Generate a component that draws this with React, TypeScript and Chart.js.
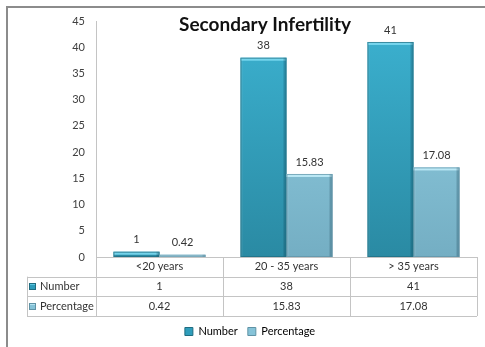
import React, { useEffect, useRef } from "react";
import { Chart, registerables } from "chart.js";

Chart.register(...registerables);

const categories = ["<20 years", "20 - 35 years", "> 35 years"];
const seriesNames = ["Number", "Percentage"];
const numberValues = [1, 38, 41];
const percentageValues = [0.42, 15.83, 17.08];
const numberLabels = ["1", "38", "41"];
const percentageLabels = ["0.42", "15.83", "17.08"];
const yMax = 45;
const yStep = 5;
const titleText = "Secondary Infertility";

const FONT = "Lato, 'Open Sans', 'DejaVu Sans', sans-serif";
const NUM_TOP = "#3cb2d1";
const NUM_BOT = "#2a8aa3";
const PCT_TOP = "#95d3e7";
const PCT_BOT = "#74aec3";
const NUM_SOLID = "#2f9dbb";
const PCT_SOLID = "#86c3d8";
const NUM_EDGE = "#1f6c80";
const PCT_EDGE = "#5f92a5";

function gradient(chart: any, top: string, bot: string, solid: string) {
  const ca = chart.chartArea;
  if (!ca) return solid;
  const g = chart.ctx.createLinearGradient(0, ca.top, 0, ca.bottom);
  g.addColorStop(0, top);
  g.addColorStop(1, bot);
  return g;
}

function drawSwatch(ctx: CanvasRenderingContext2D, x: number, y: number, s: number, di: number) {
  ctx.fillStyle = di === 0 ? NUM_EDGE : PCT_EDGE;
  ctx.fillRect(x, y, s, s);
  ctx.fillStyle = di === 0 ? NUM_SOLID : PCT_SOLID;
  ctx.fillRect(x + 1, y + 1, s - 2, s - 2);
  ctx.fillStyle = di === 0 ? "#5cc6e0" : "#b5e2f0";
  ctx.fillRect(x + 1, y + 1, s - 2, 1);
}

const decorPlugin = {
  id: "decor",
  afterDatasetsDraw(chart: any) {
    const ctx: CanvasRenderingContext2D = chart.ctx;
    const allLabels = [numberLabels, percentageLabels];
    chart.data.datasets.forEach((_ds: any, di: number) => {
      const meta = chart.getDatasetMeta(di);
      meta.data.forEach((bar: any, i: number) => {
        const { x, y, base, width } = bar.getProps(["x", "y", "base", "width"], true);
        const left = x - width / 2;
        const right = x + width / 2;
        const h = base - y;
        ctx.save();
        // bevel: top light strip
        ctx.fillStyle = di === 0 ? "rgba(120,215,238,0.95)" : "rgba(190,234,247,0.95)";
        ctx.fillRect(left, y, width, Math.min(3, h));
        // right shade
        ctx.fillStyle = "rgba(0,35,55,0.22)";
        ctx.fillRect(right - 3, y, 3, h);
        // left highlight
        ctx.fillStyle = "rgba(255,255,255,0.10)";
        ctx.fillRect(left, y, 2, h);
        // outline
        ctx.strokeStyle = di === 0 ? NUM_EDGE : PCT_EDGE;
        ctx.globalAlpha = 0.7;
        ctx.lineWidth = 1;
        ctx.strokeRect(left + 0.5, y + 0.5, width - 1, Math.max(0, h - 1));
        ctx.globalAlpha = 1;
        ctx.fillStyle = "#333333";
        ctx.font = `11px ${FONT}`;
        ctx.textAlign = "center";
        ctx.textBaseline = "middle";
        ctx.fillText(allLabels[di][i], x, y - 12);
        ctx.restore();
      });
    });
  },
  afterDraw(chart: any) {
    const ctx: CanvasRenderingContext2D = chart.ctx;
    const ca = chart.chartArea;
    const xs = chart.scales.x;
    ctx.save();
    // outer frame
    ctx.strokeStyle = "#8c8c8c";
    ctx.lineWidth = 2;
    ctx.beginPath();
    ctx.moveTo(7, chart.height);
    ctx.lineTo(7, 7);
    ctx.lineTo(chart.width, 7);
    ctx.stroke();

    // title
    ctx.fillStyle = "#111111";
    ctx.font = `bold 19px ${FONT}`;
    ctx.textAlign = "center";
    ctx.textBaseline = "alphabetic";
    ctx.fillText(titleText, 265, 31);

    // data table
    const top = ca.bottom;
    const bottom = xs.bottom;
    const rowH = (bottom - top) / 3;
    const left0 = 27;
    const colW = (ca.right - ca.left) / categories.length;
    ctx.strokeStyle = "#c4c4c4";
    ctx.lineWidth = 1;
    ctx.beginPath();
    ctx.moveTo(ca.left, Math.round(top) + 0.5);
    ctx.lineTo(ca.right, Math.round(top) + 0.5);
    for (let r = 1; r <= 3; r++) {
      const yy = Math.round(top + r * rowH) + 0.5;
      ctx.moveTo(left0, yy);
      ctx.lineTo(ca.right, yy);
    }
    for (let c = 0; c <= categories.length; c++) {
      const xx = Math.round(ca.left + c * colW) + 0.5;
      ctx.moveTo(xx, top);
      ctx.lineTo(xx, bottom);
    }
    ctx.moveTo(left0 + 0.5, top + rowH);
    ctx.lineTo(left0 + 0.5, bottom);
    ctx.stroke();

    ctx.fillStyle = "#333333";
    ctx.font = `11px ${FONT}`;
    ctx.textBaseline = "middle";
    ctx.textAlign = "center";
    const rows = [numberLabels, percentageLabels];
    categories.forEach((cat, i) => {
      const cx = xs.getPixelForValue(i);
      ctx.fillText(cat, cx, top + rowH * 0.5);
      rows.forEach((rw, r) => {
        ctx.fillText(rw[i], cx, top + rowH * (r + 1.5));
      });
    });
    ctx.textAlign = "left";
    seriesNames.forEach((name, r) => {
      const cy = top + rowH * (r + 1.5);
      drawSwatch(ctx, 29, Math.round(cy - 3.5), 7, r);
      ctx.fillStyle = "#333333";
      ctx.fillText(name, 40, cy);
    });
    ctx.restore();
  },
};

export default function App() {
  const ref = useRef<HTMLCanvasElement>(null);
  useEffect(() => {
    if (!ref.current) return;
    Chart.defaults.font.family = FONT;
    const chart = new Chart(ref.current, {
      type: "bar",
      data: {
        labels: categories,
        datasets: [
          {
            label: seriesNames[0],
            data: numberValues,
            backgroundColor: (c: any) => gradient(c.chart, NUM_TOP, NUM_BOT, NUM_SOLID),
            borderWidth: 0,
            categoryPercentage: 0.725,
            barPercentage: 1,
          },
          {
            label: seriesNames[1],
            data: percentageValues,
            backgroundColor: (c: any) => gradient(c.chart, PCT_TOP, PCT_BOT, PCT_SOLID),
            borderWidth: 0,
            categoryPercentage: 0.725,
            barPercentage: 1,
          },
        ],
      },
      options: {
        animation: false,
        responsive: true,
        maintainAspectRatio: false,
        layout: { padding: { top: 21, left: 23, right: 8, bottom: 0 } },
        plugins: {
          title: { display: false },
          tooltip: { enabled: false },
          legend: {
            display: true,
            position: "bottom",
            labels: {
              boxWidth: 8,
              boxHeight: 8,
              padding: 10,
              color: "#333333",
              font: { size: 11, family: FONT },
              generateLabels: () =>
                seriesNames.map((n, i) => ({
                  text: n,
                  fillStyle: i === 0 ? NUM_SOLID : PCT_SOLID,
                  strokeStyle: i === 0 ? NUM_EDGE : PCT_EDGE,
                  lineWidth: 1,
                  hidden: false,
                  datasetIndex: i,
                })),
            },
          },
        },
        scales: {
          x: {
            display: true,
            grid: { display: false, drawTicks: false },
            border: { display: false },
            ticks: { display: false },
            afterFit: (s: any) => {
              s.height = 59;
            },
          },
          y: {
            min: 0,
            max: yMax,
            grid: { display: false, drawTicks: false },
            border: { display: true, color: "#c4c4c4" },
            ticks: {
              stepSize: yStep,
              padding: 11,
              color: "#404040",
              font: { size: 11, family: FONT },
            },
            afterFit: (s: any) => {
              s.width = 73;
            },
          },
        },
      },
      plugins: [decorPlugin],
    } as any);
    return () => chart.destroy();
  }, []);
  return (
    <div style={{ position: "absolute", left: 0, top: 0, width: 485, height: 347, background: "#fff" }}>
      <canvas ref={ref} />
    </div>
  );
}
